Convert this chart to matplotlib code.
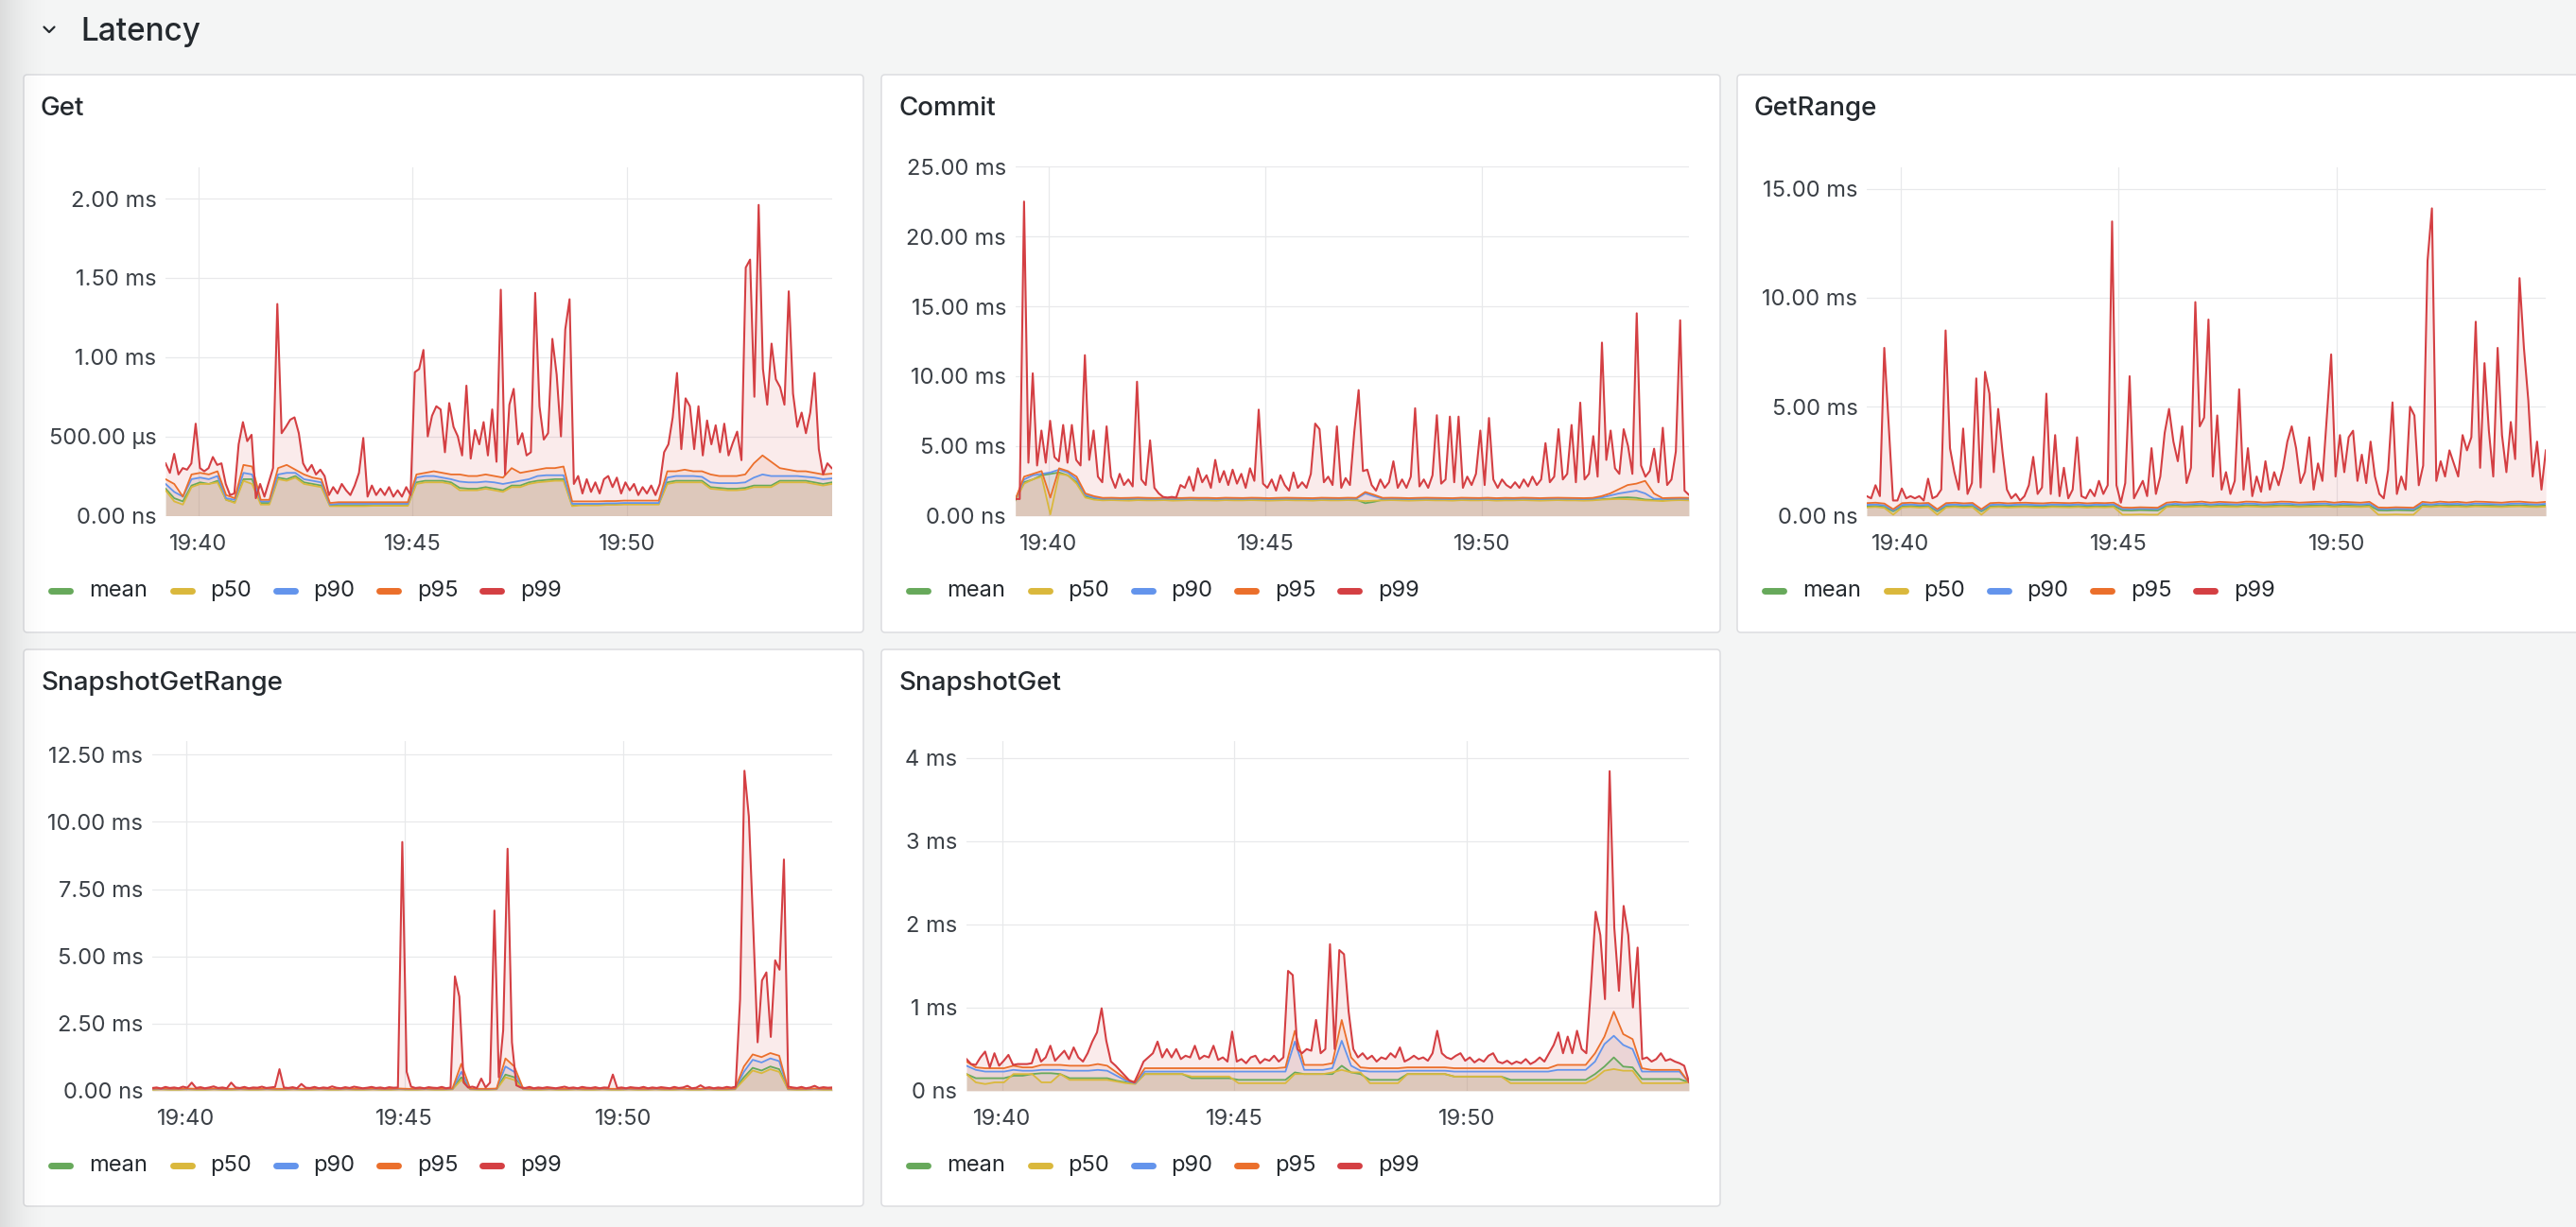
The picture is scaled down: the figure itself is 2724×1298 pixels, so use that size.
import numpy as np
import matplotlib
matplotlib.use("Agg")
import matplotlib.pyplot as plt
from matplotlib.patches import FancyBboxPatch

plt.rcParams['font.family'] = ['Inter', 'DejaVu Sans']

# ---------------- data ----------------
SERIES = ['mean', 'p50', 'p90', 'p95', 'p99']
COLORS = ['#67a95b', '#dab83c', '#6394ec', '#eb6f2b', '#d43f43']
X_TICKS = [0, 5, 10]                      # minutes after 19:40
X_LABELS = ['19:40', '19:45', '19:50']
T_START, T_END = -0.77, 14.78             # 19:39:14 .. 19:54:47
T_HI = np.linspace(T_START, T_END, 156)   # p99 sample times
T_LO = np.linspace(T_START, T_END, 78)    # mean/p50/p90/p95 sample times

# Get (values in microseconds)
GET_P99 = [330, 270, 390, 260, 300, 290, 330, 580, 300, 280,
           300, 370, 320, 330, 200, 130, 140, 450, 590, 470,
           510, 110, 200, 120, 210, 300, 1335, 520, 560, 605,
           620, 520, 330, 280, 320, 260, 290, 250, 130, 180,
           140, 200, 160, 130, 190, 270, 490, 120, 190, 130,
           170, 130, 180, 120, 160, 120, 180, 130, 905, 925,
           1045, 500, 630, 690, 670, 400, 710, 560, 500, 380,
           820, 360, 540, 450, 590, 380, 670, 340, 1425, 260,
           700, 800, 450, 520, 380, 400, 1405, 690, 480, 520,
           1115, 890, 500, 1175, 1365, 200, 250, 140, 230, 150,
           210, 140, 230, 250, 180, 240, 140, 210, 160, 200,
           130, 180, 140, 190, 130, 200, 400, 450, 620, 900,
           420, 740, 690, 420, 690, 380, 600, 450, 570, 400,
           580, 380, 460, 530, 350, 1565, 1615, 750, 1960, 925,
           700, 1085, 860, 810, 700, 1415, 770, 560, 650, 520,
           650, 900, 420, 260, 330, 300]
GET_P50 = [160, 90, 70, 180, 200, 200, 210, 100, 80, 220,
           200, 70, 70, 230, 220, 240, 200, 190, 180, 60,
           60, 60, 60, 60, 62, 62, 62, 62, 62, 200,
           210, 210, 210, 200, 160, 160, 160, 170, 160, 150,
           180, 180, 200, 210, 215, 220, 220, 60, 65, 65,
           65, 68, 68, 70, 70, 70, 70, 70, 200, 210,
           210, 210, 210, 170, 165, 160, 160, 165, 180, 180,
           180, 210, 210, 210, 210, 200, 190, 200]
GET_MEAN = [170, 110, 90, 190, 210, 200, 220, 100, 85, 230,
            230, 80, 80, 240, 230, 250, 210, 200, 190, 65,
            65, 65, 65, 65, 66, 66, 66, 66, 66, 210,
            220, 220, 220, 210, 175, 170, 170, 180, 170, 160,
            190, 190, 210, 220, 225, 230, 230, 65, 70, 70,
            70, 72, 72, 74, 74, 74, 74, 74, 210, 220,
            220, 220, 220, 180, 175, 170, 170, 175, 190, 190,
            190, 220, 220, 220, 220, 210, 200, 210]
GET_P90 = [200, 150, 120, 230, 240, 230, 250, 110, 100, 270,
           260, 90, 90, 260, 270, 270, 230, 220, 210, 70,
           75, 75, 75, 75, 75, 75, 75, 75, 75, 240,
           250, 250, 240, 230, 215, 210, 210, 215, 210, 200,
           210, 220, 230, 250, 255, 255, 255, 75, 75, 75,
           75, 78, 78, 80, 80, 80, 80, 80, 240, 250,
           250, 250, 245, 210, 205, 205, 205, 210, 240, 260,
           250, 250, 250, 250, 245, 240, 230, 235]
GET_P95 = [230, 200, 120, 260, 270, 260, 280, 130, 110, 320,
           310, 100, 100, 300, 320, 290, 260, 240, 230, 80,
           85, 85, 85, 85, 85, 85, 85, 85, 85, 260,
           270, 280, 270, 260, 260, 250, 250, 260, 250, 240,
           300, 270, 280, 290, 300, 300, 310, 90, 90, 90,
           90, 92, 92, 95, 95, 95, 95, 95, 280, 280,
           290, 280, 280, 260, 250, 250, 250, 260, 330, 380,
           340, 300, 290, 280, 280, 270, 260, 265]
GET_YTICKS = [0, 500, 1000, 1500, 2000]
GET_YLABELS = ['0.00 ns', '500.00 µs', '1.00 ms', '1.50 ms', '2.00 ms']

# Commit (ms)
COMMIT_P99 = [1.2, 1.2, 22.5, 3.8, 10.2, 3.6, 6.1, 3.8, 6.8, 4.2,
              3.9, 6.5, 3.8, 6.5, 4.0, 3.6, 11.5, 4.0, 6.1, 2.8,
              2.4, 6.4, 2.8, 2.0, 3.0, 2.2, 2.6, 2.1, 9.6, 2.6,
              2.2, 5.4, 2.0, 1.6, 1.35, 1.3, 1.35, 1.3, 2.2, 2.0,
              2.8, 1.8, 3.4, 2.4, 2.9, 2.0, 4.0, 2.4, 3.2, 2.2,
              3.3, 2.3, 3.0, 2.0, 3.4, 2.5, 7.6, 2.3, 2.0, 2.6,
              1.8, 2.9, 2.2, 1.8, 3.1, 2.0, 2.4, 2.0, 3.0, 6.6,
              6.2, 2.4, 2.8, 2.2, 6.4, 2.0, 2.7, 2.2, 6.0, 9.0,
              3.2, 3.3, 2.2, 1.8, 2.6, 2.0, 2.4, 3.9, 2.0, 2.6,
              2.0, 2.8, 7.7, 2.1, 2.6, 2.0, 2.9, 7.2, 2.3, 2.6,
              7.1, 2.4, 7.1, 2.0, 2.8, 2.2, 3.0, 6.1, 2.2, 7.0,
              2.6, 2.0, 2.6, 2.2, 2.0, 2.4, 2.0, 2.6, 2.1, 2.8,
              2.2, 2.6, 5.2, 2.4, 2.8, 6.2, 2.6, 3.0, 6.5, 2.4,
              8.1, 2.6, 3.0, 5.7, 2.8, 12.4, 4.0, 6.1, 3.4, 3.0,
              6.2, 5.0, 3.0, 14.5, 3.6, 2.8, 3.2, 4.8, 2.4, 6.3,
              2.2, 2.6, 4.6, 14.0, 1.8, 1.5]
COMMIT_P50 = [1.10, 2.30, 2.60, 2.80, 0.10, 3.00, 2.90, 2.30, 1.30, 1.15,
              1.10, 1.12, 1.10, 1.08, 1.12, 1.10, 1.10, 1.12, 1.08, 1.10,
              1.12, 1.10, 1.10, 1.08, 1.12, 1.10, 1.10, 1.12, 1.10, 1.08,
              1.10, 1.12, 1.10, 1.10, 1.08, 1.12, 1.10, 1.10, 1.12, 1.10,
              1.05, 1.08, 1.10, 1.12, 1.10, 1.08, 1.10, 1.12, 1.10, 1.10,
              1.08, 1.12, 1.10, 1.10, 1.12, 1.08, 1.10, 1.10, 1.12, 1.10,
              1.08, 1.10, 1.12, 1.10, 1.10, 1.08, 1.10, 1.15, 1.18, 1.20,
              1.18, 1.15, 1.10, 1.08, 1.05, 1.10, 1.12, 1.10]
COMMIT_MEAN = [1.12, 2.40, 2.60, 2.90, 3.00, 3.10, 2.90, 2.40, 1.40, 1.20,
               1.15, 1.16, 1.14, 1.15, 1.17, 1.15, 1.14, 1.16, 1.15, 1.14,
               1.16, 1.15, 1.15, 1.13, 1.16, 1.15, 1.14, 1.16, 1.15, 1.13,
               1.15, 1.16, 1.15, 1.14, 1.13, 1.16, 1.15, 1.14, 1.16, 1.15,
               0.90, 1.00, 1.15, 1.16, 1.15, 1.13, 1.15, 1.16, 1.15, 1.14,
               1.13, 1.16, 1.15, 1.14, 1.16, 1.13, 1.15, 1.14, 1.16, 1.15,
               1.13, 1.15, 1.16, 1.15, 1.14, 1.13, 1.15, 1.18, 1.22, 1.30,
               1.32, 1.28, 1.16, 1.13, 1.10, 1.15, 1.16, 1.15]
COMMIT_P90 = [1.15, 2.60, 2.90, 3.00, 3.10, 3.30, 3.10, 2.60, 1.50, 1.30,
              1.22, 1.23, 1.21, 1.22, 1.24, 1.22, 1.21, 1.23, 1.22, 1.21,
              1.23, 1.22, 1.22, 1.20, 1.23, 1.22, 1.21, 1.23, 1.22, 1.20,
              1.22, 1.23, 1.22, 1.21, 1.20, 1.23, 1.22, 1.21, 1.23, 1.22,
              1.60, 1.40, 1.22, 1.23, 1.22, 1.20, 1.22, 1.23, 1.22, 1.21,
              1.20, 1.23, 1.22, 1.21, 1.23, 1.20, 1.22, 1.21, 1.23, 1.22,
              1.20, 1.22, 1.23, 1.22, 1.21, 1.20, 1.22, 1.30, 1.45, 1.60,
              1.70, 1.80, 1.60, 1.22, 1.20, 1.22, 1.23, 1.22]
COMMIT_P95 = [1.18, 2.80, 3.00, 3.20, 1.30, 3.40, 3.20, 2.80, 1.60, 1.40,
              1.28, 1.29, 1.27, 1.28, 1.30, 1.28, 1.27, 1.29, 1.28, 1.27,
              1.29, 1.28, 1.28, 1.26, 1.29, 1.28, 1.27, 1.29, 1.28, 1.26,
              1.28, 1.29, 1.28, 1.27, 1.26, 1.29, 1.28, 1.27, 1.29, 1.28,
              1.70, 1.50, 1.28, 1.29, 1.28, 1.26, 1.28, 1.29, 1.28, 1.27,
              1.26, 1.29, 1.28, 1.27, 1.29, 1.26, 1.28, 1.27, 1.29, 1.28,
              1.26, 1.28, 1.29, 1.28, 1.27, 1.26, 1.28, 1.40, 1.60, 1.90,
              2.20, 2.30, 2.50, 1.60, 1.26, 1.28, 1.29, 1.28]
COMMIT_YTICKS = [0, 5, 10, 15, 20, 25]
COMMIT_YLABELS = ['0.00 ns', '5.00 ms', '10.00 ms', '15.00 ms', '20.00 ms', '25.00 ms']

# GetRange (ms)
GETRANGE_P99 = [0.9, 0.8, 1.4, 0.9, 7.7, 4.2, 0.7, 0.7, 1.25, 0.8,
                0.9, 0.8, 0.9, 0.7, 1.7, 0.8, 0.9, 1.2, 8.5, 3.1,
                2.0, 1.2, 4.0, 1.0, 1.5, 6.3, 1.3, 6.6, 5.6, 2.0,
                4.9, 2.9, 1.2, 0.8, 1.0, 0.7, 0.9, 1.4, 2.7, 1.0,
                1.3, 5.6, 1.0, 3.7, 0.9, 2.2, 0.8, 1.2, 3.6, 0.9,
                0.8, 1.2, 0.9, 1.6, 1.0, 1.4, 13.5, 1.4, 0.6, 1.5,
                6.4, 0.8, 1.2, 1.6, 0.9, 3.1, 1.0, 1.8, 3.8, 4.9,
                3.4, 2.5, 4.1, 1.5, 2.2, 9.8, 4.1, 4.5, 9.0, 1.8,
                4.6, 1.2, 2.0, 1.0, 1.6, 5.8, 1.2, 3.1, 0.9, 1.8,
                1.1, 2.5, 1.2, 2.0, 1.4, 2.2, 3.4, 4.1, 3.1, 1.5,
                2.0, 3.6, 1.2, 2.4, 1.6, 4.5, 7.4, 1.8, 3.7, 2.0,
                3.6, 3.9, 1.6, 2.8, 1.5, 3.4, 1.8, 1.0, 0.8, 2.1,
                5.2, 1.0, 1.8, 1.2, 5.0, 4.6, 1.4, 2.3, 11.7, 14.1,
                1.6, 2.5, 1.8, 3.0, 2.4, 1.8, 3.7, 3.0, 3.6, 8.9,
                2.2, 7.0, 3.9, 1.8, 7.7, 3.7, 2.0, 4.3, 2.6, 10.9,
                7.7, 5.3, 1.8, 3.4, 1.2, 3.0]
GETRANGE_P50 = [0.38, 0.40, 0.36, 0.05, 0.38, 0.40, 0.37, 0.39, 0.05, 0.38,
                0.40, 0.37, 0.39, 0.05, 0.38, 0.40, 0.37, 0.39, 0.40, 0.38,
                0.37, 0.40, 0.39, 0.38, 0.40, 0.37, 0.39, 0.38, 0.40, 0.05,
                0.05, 0.06, 0.05, 0.05, 0.40, 0.42, 0.40, 0.41, 0.43, 0.40,
                0.42, 0.41, 0.40, 0.43, 0.42, 0.40, 0.41, 0.43, 0.42, 0.40,
                0.41, 0.42, 0.43, 0.40, 0.42, 0.41, 0.40, 0.42, 0.05, 0.05,
                0.06, 0.05, 0.05, 0.42, 0.40, 0.43, 0.41, 0.42, 0.40, 0.43,
                0.42, 0.41, 0.40, 0.42, 0.43, 0.41, 0.40, 0.42]
GETRANGE_MEAN = [0.43, 0.45, 0.41, 0.20, 0.43, 0.45, 0.42, 0.44, 0.20, 0.43,
                 0.45, 0.42, 0.44, 0.20, 0.43, 0.45, 0.42, 0.44, 0.45, 0.43,
                 0.42, 0.45, 0.44, 0.43, 0.45, 0.42, 0.44, 0.43, 0.45, 0.25,
                 0.24, 0.26, 0.25, 0.24, 0.45, 0.47, 0.45, 0.46, 0.48, 0.45,
                 0.47, 0.46, 0.45, 0.48, 0.47, 0.45, 0.46, 0.48, 0.47, 0.45,
                 0.46, 0.47, 0.48, 0.45, 0.47, 0.46, 0.45, 0.47, 0.25, 0.24,
                 0.26, 0.25, 0.24, 0.47, 0.45, 0.48, 0.46, 0.47, 0.45, 0.48,
                 0.47, 0.46, 0.45, 0.47, 0.48, 0.46, 0.45, 0.47]
GETRANGE_P90 = [0.50, 0.52, 0.48, 0.25, 0.50, 0.52, 0.49, 0.51, 0.25, 0.50,
                0.52, 0.49, 0.51, 0.25, 0.50, 0.52, 0.49, 0.51, 0.52, 0.50,
                0.49, 0.52, 0.51, 0.50, 0.52, 0.49, 0.51, 0.50, 0.52, 0.32,
                0.31, 0.33, 0.32, 0.31, 0.52, 0.55, 0.52, 0.54, 0.56, 0.52,
                0.55, 0.54, 0.52, 0.56, 0.55, 0.52, 0.54, 0.56, 0.55, 0.52,
                0.54, 0.55, 0.56, 0.52, 0.55, 0.54, 0.52, 0.55, 0.32, 0.31,
                0.33, 0.32, 0.31, 0.55, 0.52, 0.56, 0.54, 0.55, 0.52, 0.56,
                0.55, 0.54, 0.52, 0.55, 0.56, 0.54, 0.52, 0.55]
GETRANGE_P95 = [0.58, 0.60, 0.56, 0.30, 0.58, 0.60, 0.57, 0.59, 0.30, 0.58,
                0.60, 0.57, 0.59, 0.30, 0.58, 0.60, 0.57, 0.59, 0.60, 0.58,
                0.57, 0.60, 0.59, 0.58, 0.60, 0.57, 0.59, 0.58, 0.60, 0.38,
                0.37, 0.39, 0.38, 0.37, 0.60, 0.64, 0.60, 0.62, 0.65, 0.60,
                0.64, 0.62, 0.60, 0.65, 0.64, 0.60, 0.62, 0.65, 0.64, 0.60,
                0.62, 0.64, 0.65, 0.60, 0.64, 0.62, 0.60, 0.64, 0.38, 0.37,
                0.39, 0.38, 0.37, 0.64, 0.60, 0.65, 0.62, 0.64, 0.60, 0.65,
                0.64, 0.62, 0.60, 0.64, 0.65, 0.62, 0.60, 0.64]
GETRANGE_YTICKS = [0, 5, 10, 15]
GETRANGE_YLABELS = ['0.00 ns', '5.00 ms', '10.00 ms', '15.00 ms']

# SnapshotGetRange (ms)
SGR_P99 = [0.10, 0.12, 0.08, 0.14, 0.10, 0.12, 0.09, 0.15, 0.11, 0.30,
           0.10, 0.13, 0.09, 0.12, 0.16, 0.10, 0.12, 0.09, 0.30, 0.12,
           0.10, 0.14, 0.09, 0.12, 0.11, 0.15, 0.10, 0.12, 0.14, 0.80,
           0.12, 0.10, 0.13, 0.09, 0.25, 0.11, 0.10, 0.14, 0.09, 0.12,
           0.10, 0.16, 0.11, 0.09, 0.13, 0.10, 0.15, 0.12, 0.09, 0.11,
           0.14, 0.10, 0.12, 0.09, 0.13, 0.11, 0.12, 9.25, 0.70, 0.15,
           0.10, 0.12, 0.09, 0.13, 0.11, 0.10, 0.14, 0.09, 0.12, 4.25,
           3.50, 0.30, 0.12, 0.15, 0.10, 0.45, 0.12, 0.30, 6.70, 0.50,
           2.25, 9.00, 1.80, 0.20, 0.12, 0.10, 0.14, 0.09, 0.12, 0.10,
           0.13, 0.11, 0.09, 0.12, 0.15, 0.10, 0.12, 0.09, 0.14, 0.11,
           0.10, 0.13, 0.09, 0.12, 0.11, 0.60, 0.10, 0.12, 0.09, 0.13,
           0.11, 0.10, 0.14, 0.09, 0.12, 0.10, 0.13, 0.11, 0.09, 0.14,
           0.10, 0.12, 0.18, 0.09, 0.11, 0.20, 0.10, 0.13, 0.09, 0.12,
           0.10, 0.14, 0.11, 0.15, 3.40, 11.90, 10.20, 6.10, 1.80, 4.10,
           4.40, 2.00, 4.85, 4.50, 8.60, 0.15, 0.12, 0.10, 0.14, 0.09,
           0.12, 0.18, 0.10, 0.13, 0.11, 0.12]
SGR_P50 = [0.04, 0.05, 0.04, 0.04, 0.05, 0.04, 0.04, 0.05, 0.04, 0.04,
           0.05, 0.04, 0.04, 0.05, 0.04, 0.04, 0.05, 0.04, 0.04, 0.05,
           0.04, 0.04, 0.05, 0.04, 0.04, 0.05, 0.04, 0.04, 0.05, 0.04,
           0.04, 0.05, 0.04, 0.04, 0.05, 0.40, 0.05, 0.04, 0.04, 0.05,
           0.50, 0.40, 0.05, 0.04, 0.04, 0.05, 0.04, 0.04, 0.05, 0.04,
           0.04, 0.05, 0.04, 0.04, 0.05, 0.04, 0.04, 0.05, 0.04, 0.04,
           0.05, 0.04, 0.04, 0.05, 0.04, 0.04, 0.05, 0.40, 0.75, 0.65,
           0.80, 0.70, 0.05, 0.04, 0.04, 0.05, 0.04, 0.04]
SGR_MEAN = [0.05, 0.06, 0.05, 0.05, 0.06, 0.05, 0.05, 0.06, 0.05, 0.05,
            0.06, 0.05, 0.05, 0.06, 0.05, 0.05, 0.06, 0.05, 0.05, 0.06,
            0.05, 0.05, 0.06, 0.05, 0.05, 0.06, 0.05, 0.05, 0.06, 0.05,
            0.05, 0.06, 0.05, 0.05, 0.06, 0.50, 0.06, 0.05, 0.05, 0.06,
            0.60, 0.50, 0.06, 0.05, 0.05, 0.06, 0.05, 0.05, 0.06, 0.05,
            0.05, 0.06, 0.05, 0.05, 0.06, 0.05, 0.05, 0.06, 0.05, 0.05,
            0.06, 0.05, 0.05, 0.06, 0.05, 0.05, 0.06, 0.50, 0.85, 0.75,
            0.90, 0.80, 0.06, 0.05, 0.05, 0.06, 0.05, 0.05]
SGR_P90 = [0.06, 0.07, 0.06, 0.06, 0.07, 0.06, 0.06, 0.07, 0.06, 0.06,
           0.07, 0.06, 0.06, 0.07, 0.06, 0.06, 0.07, 0.06, 0.06, 0.07,
           0.06, 0.06, 0.07, 0.06, 0.06, 0.07, 0.06, 0.06, 0.07, 0.06,
           0.06, 0.07, 0.06, 0.06, 0.07, 0.70, 0.07, 0.06, 0.06, 0.07,
           0.90, 0.70, 0.07, 0.06, 0.06, 0.07, 0.06, 0.06, 0.07, 0.06,
           0.06, 0.07, 0.06, 0.06, 0.07, 0.06, 0.06, 0.07, 0.06, 0.06,
           0.07, 0.06, 0.06, 0.07, 0.06, 0.06, 0.07, 0.70, 1.15, 1.05,
           1.20, 1.10, 0.07, 0.06, 0.06, 0.07, 0.06, 0.06]
SGR_P95 = [0.07, 0.08, 0.07, 0.07, 0.08, 0.07, 0.07, 0.08, 0.07, 0.07,
           0.08, 0.07, 0.07, 0.08, 0.07, 0.07, 0.08, 0.07, 0.07, 0.08,
           0.07, 0.07, 0.08, 0.07, 0.07, 0.08, 0.07, 0.07, 0.08, 0.07,
           0.07, 0.08, 0.07, 0.07, 0.08, 1.00, 0.08, 0.07, 0.07, 0.08,
           1.20, 0.90, 0.08, 0.07, 0.07, 0.08, 0.07, 0.07, 0.08, 0.07,
           0.07, 0.08, 0.07, 0.07, 0.08, 0.07, 0.07, 0.08, 0.07, 0.07,
           0.08, 0.07, 0.07, 0.08, 0.07, 0.07, 0.08, 0.90, 1.35, 1.25,
           1.40, 1.30, 0.08, 0.07, 0.07, 0.08, 0.07, 0.07]
SGR_YTICKS = [0, 2.5, 5, 7.5, 10, 12.5]
SGR_YLABELS = ['0.00 ns', '2.50 ms', '5.00 ms', '7.50 ms', '10.00 ms', '12.50 ms']

# SnapshotGet (ms)
SG_P99 = [0.38, 0.32, 0.31, 0.40, 0.47, 0.28, 0.45, 0.30, 0.36, 0.43,
          0.31, 0.32, 0.32, 0.32, 0.33, 0.50, 0.35, 0.40, 0.54, 0.36,
          0.42, 0.48, 0.38, 0.52, 0.40, 0.35, 0.45, 0.59, 0.70, 0.99,
          0.60, 0.35, 0.30, 0.24, 0.18, 0.12, 0.10, 0.22, 0.35, 0.40,
          0.45, 0.59, 0.40, 0.50, 0.40, 0.50, 0.38, 0.42, 0.40, 0.54,
          0.38, 0.42, 0.40, 0.54, 0.37, 0.40, 0.35, 0.71, 0.35, 0.38,
          0.33, 0.40, 0.42, 0.33, 0.38, 0.36, 0.42, 0.35, 0.40, 1.44,
          1.39, 0.50, 0.45, 0.50, 0.48, 0.85, 0.45, 0.50, 1.76, 0.50,
          1.69, 1.64, 0.95, 0.50, 0.40, 0.45, 0.38, 0.42, 0.35, 0.40,
          0.38, 0.45, 0.40, 0.52, 0.35, 0.38, 0.42, 0.38, 0.40, 0.36,
          0.45, 0.72, 0.45, 0.40, 0.38, 0.42, 0.45, 0.36, 0.40, 0.34,
          0.38, 0.35, 0.42, 0.45, 0.35, 0.33, 0.36, 0.32, 0.35, 0.33,
          0.38, 0.32, 0.35, 0.40, 0.35, 0.45, 0.55, 0.70, 0.45, 0.65,
          0.45, 0.72, 0.50, 0.45, 1.25, 2.15, 1.87, 1.10, 3.84, 1.96,
          1.20, 2.22, 1.87, 1.00, 1.72, 0.38, 0.40, 0.35, 0.38, 0.45,
          0.36, 0.38, 0.35, 0.33, 0.30, 0.11]
SG_P50 = [0.20, 0.10, 0.08, 0.10, 0.10, 0.20, 0.20, 0.20, 0.10, 0.10,
          0.20, 0.13, 0.13, 0.13, 0.13, 0.13, 0.11, 0.09, 0.08, 0.20,
          0.20, 0.20, 0.20, 0.20, 0.17, 0.17, 0.17, 0.17, 0.17, 0.09,
          0.09, 0.09, 0.09, 0.09, 0.09, 0.20, 0.20, 0.20, 0.20, 0.22,
          0.25, 0.22, 0.22, 0.09, 0.09, 0.09, 0.09, 0.20, 0.20, 0.20,
          0.20, 0.20, 0.17, 0.17, 0.17, 0.17, 0.17, 0.17, 0.09, 0.09,
          0.09, 0.09, 0.09, 0.09, 0.09, 0.09, 0.09, 0.15, 0.24, 0.26,
          0.24, 0.24, 0.09, 0.09, 0.09, 0.09, 0.09, 0.10]
SG_MEAN = [0.20, 0.15, 0.15, 0.15, 0.15, 0.18, 0.18, 0.20, 0.21, 0.21,
           0.20, 0.15, 0.15, 0.15, 0.15, 0.15, 0.12, 0.10, 0.09, 0.20,
           0.20, 0.20, 0.20, 0.20, 0.15, 0.15, 0.15, 0.15, 0.15, 0.13,
           0.13, 0.13, 0.13, 0.13, 0.13, 0.22, 0.20, 0.20, 0.20, 0.20,
           0.30, 0.22, 0.20, 0.13, 0.13, 0.13, 0.13, 0.20, 0.20, 0.20,
           0.20, 0.20, 0.17, 0.17, 0.17, 0.17, 0.17, 0.17, 0.13, 0.13,
           0.13, 0.13, 0.13, 0.13, 0.13, 0.13, 0.13, 0.20, 0.29, 0.40,
           0.29, 0.28, 0.14, 0.14, 0.14, 0.14, 0.14, 0.10]
SG_P90 = [0.30, 0.25, 0.23, 0.23, 0.23, 0.25, 0.24, 0.24, 0.25, 0.25,
          0.25, 0.24, 0.24, 0.24, 0.25, 0.24, 0.18, 0.12, 0.09, 0.23,
          0.23, 0.23, 0.23, 0.23, 0.23, 0.23, 0.23, 0.23, 0.23, 0.23,
          0.23, 0.23, 0.23, 0.23, 0.23, 0.59, 0.25, 0.25, 0.25, 0.27,
          0.60, 0.30, 0.24, 0.23, 0.23, 0.23, 0.23, 0.24, 0.24, 0.24,
          0.24, 0.24, 0.23, 0.23, 0.23, 0.23, 0.23, 0.23, 0.23, 0.23,
          0.23, 0.23, 0.23, 0.25, 0.25, 0.25, 0.25, 0.35, 0.56, 0.66,
          0.55, 0.50, 0.23, 0.23, 0.23, 0.23, 0.23, 0.10]
SG_P95 = [0.35, 0.28, 0.27, 0.27, 0.27, 0.30, 0.28, 0.28, 0.31, 0.31,
          0.31, 0.30, 0.30, 0.30, 0.32, 0.30, 0.22, 0.14, 0.10, 0.27,
          0.27, 0.27, 0.27, 0.27, 0.27, 0.27, 0.27, 0.27, 0.27, 0.27,
          0.27, 0.27, 0.27, 0.27, 0.28, 0.72, 0.31, 0.31, 0.31, 0.33,
          0.85, 0.40, 0.28, 0.27, 0.27, 0.27, 0.27, 0.28, 0.28, 0.28,
          0.28, 0.28, 0.27, 0.27, 0.27, 0.27, 0.27, 0.27, 0.27, 0.27,
          0.27, 0.27, 0.27, 0.31, 0.31, 0.31, 0.31, 0.45, 0.65, 0.95,
          0.68, 0.62, 0.27, 0.25, 0.25, 0.25, 0.25, 0.10]
SG_YTICKS = [0, 1, 2, 3, 4]
SG_YLABELS = ['0 ns', '1 ms', '2 ms', '3 ms', '4 ms']

# ---------------- layout (pixels) ----------------
W, H, DPI = 2724, 1298, 100
TEXT = '#24292e'
TICK = '#3b4046'

fig = plt.figure(figsize=(W / DPI, H / DPI), dpi=DPI)
fig.patch.set_facecolor('#f4f5f5')
bg = fig.add_axes([0, 0, 1, 1])
bg.set_xlim(0, W)
bg.set_ylim(H, 0)
bg.axis('off')
bg.set_zorder(0)

# row header
bg.plot([46.5, 52, 57.5], [28.5, 34, 28.5], color=TEXT, lw=1.6,
        solid_capstyle='round', solid_joinstyle='round')
bg.text(85, 43.4, 'Latency', fontsize=24, fontweight='medium', color=TEXT,
        va='baseline', ha='left')

panels = [
    dict(title='Get', box=(25, 79, 913, 669), plot=(175.1, 176.5, 879.5, 545.5),
         ymax=2200, yt=GET_YTICKS, yl=GET_YLABELS,
         lo=[GET_MEAN, GET_P50, GET_P90, GET_P95], hi=GET_P99),
    dict(title='Commit', box=(932, 79, 1819, 669), plot=(1073.7, 176.3, 1785.9, 545.6),
         ymax=25, yt=COMMIT_YTICKS, yl=COMMIT_YLABELS,
         lo=[COMMIT_MEAN, COMMIT_P50, COMMIT_P90, COMMIT_P95], hi=COMMIT_P99),
    dict(title='GetRange', box=(1837, 79, 2770, 669), plot=(1974.0, 176.6, 2692.1, 545.6),
         ymax=16, yt=GETRANGE_YTICKS, yl=GETRANGE_YLABELS,
         lo=[GETRANGE_MEAN, GETRANGE_P50, GETRANGE_P90, GETRANGE_P95], hi=GETRANGE_P99),
    dict(title='SnapshotGetRange', box=(25, 687, 913, 1276), plot=(161.0, 784.1, 880.0, 1153.8),
         ymax=13, yt=SGR_YTICKS, yl=SGR_YLABELS,
         lo=[SGR_MEAN, SGR_P50, SGR_P90, SGR_P95], hi=SGR_P99),
    dict(title='SnapshotGet', box=(932, 687, 1819, 1276), plot=(1022.0, 784.1, 1785.9, 1153.8),
         ymax=4.2, yt=SG_YTICKS, yl=SG_YLABELS,
         lo=[SG_MEAN, SG_P50, SG_P90, SG_P95], hi=SG_P99),
]

LEG_MARK = [25, 154, 263, 372, 481]
LEG_TEXT = [69, 197, 306, 416, 525]

for p in panels:
    x0, y0, x1, y1 = p['box']
    bg.add_patch(FancyBboxPatch((x0, y0), x1 - x0, y1 - y0,
                                boxstyle='round,pad=0,rounding_size=4',
                                fc='white', ec='#dcdde0', lw=1.1, zorder=1))
    bg.text(x0 + 18, y0 + 43.3, p['title'], fontsize=20, fontweight='medium',
            color=TEXT, va='baseline', ha='left', zorder=3)
    ly = y0 + 545.5
    for k, name in enumerate(SERIES):
        mx = x0 + LEG_MARK[k]
        bg.plot([mx + 3.5, mx + 23.5], [ly, ly], color=COLORS[k], lw=5.0,
                solid_capstyle='round', zorder=3)
        bg.text(x0 + LEG_TEXT[k], ly + 6.4, name, fontsize=17, color=TEXT,
                va='baseline', ha='left', zorder=3)

# soft page shadow along the left edge (over the panels)
shadow = np.zeros((1, 80, 4))
shadow[0, :, 3] = 0.10 * (1 - np.linspace(0, 1, 80)) ** 2
bg.imshow(shadow, extent=[0, 60, H, 0], aspect='auto', zorder=4,
          interpolation='bilinear')
bg.set_xlim(0, W)
bg.set_ylim(H, 0)

for p in panels:
    l, t, r, b = p['plot']
    ax = fig.add_axes([l / W, 1 - b / H, (r - l) / W, (b - t) / H])
    ax.set_zorder(2)
    ax.set_facecolor('none')
    for s in ax.spines.values():
        s.set_visible(False)
    ax.set_xlim(T_START, T_END)
    ax.set_ylim(0, p['ymax'])
    ax.set_xticks(X_TICKS)
    ax.set_xticklabels(X_LABELS)
    ax.set_yticks(p['yt'])
    ax.set_yticklabels(p['yl'])
    ax.tick_params(length=0, labelsize=17, labelcolor=TICK)
    ax.tick_params(axis='y', pad=7)
    ax.tick_params(axis='x', pad=14)
    ax.grid(True, color='#e8e9eb', lw=0.9)
    ax.set_axisbelow(True)

    series = [(T_LO, v) for v in p['lo']] + [(T_HI, p['hi'])]
    for k, (tt, vv) in enumerate(series):
        vv = np.asarray(vv, dtype=float)
        ax.fill_between(tt, 0, vv, color=COLORS[k], alpha=0.10, lw=0)
        ax.plot(tt, vv, color=COLORS[k], lw=1.5 if k == 4 else 1.3,
                solid_joinstyle='round')

fig.savefig('out.png', dpi=DPI, facecolor=fig.get_facecolor())
